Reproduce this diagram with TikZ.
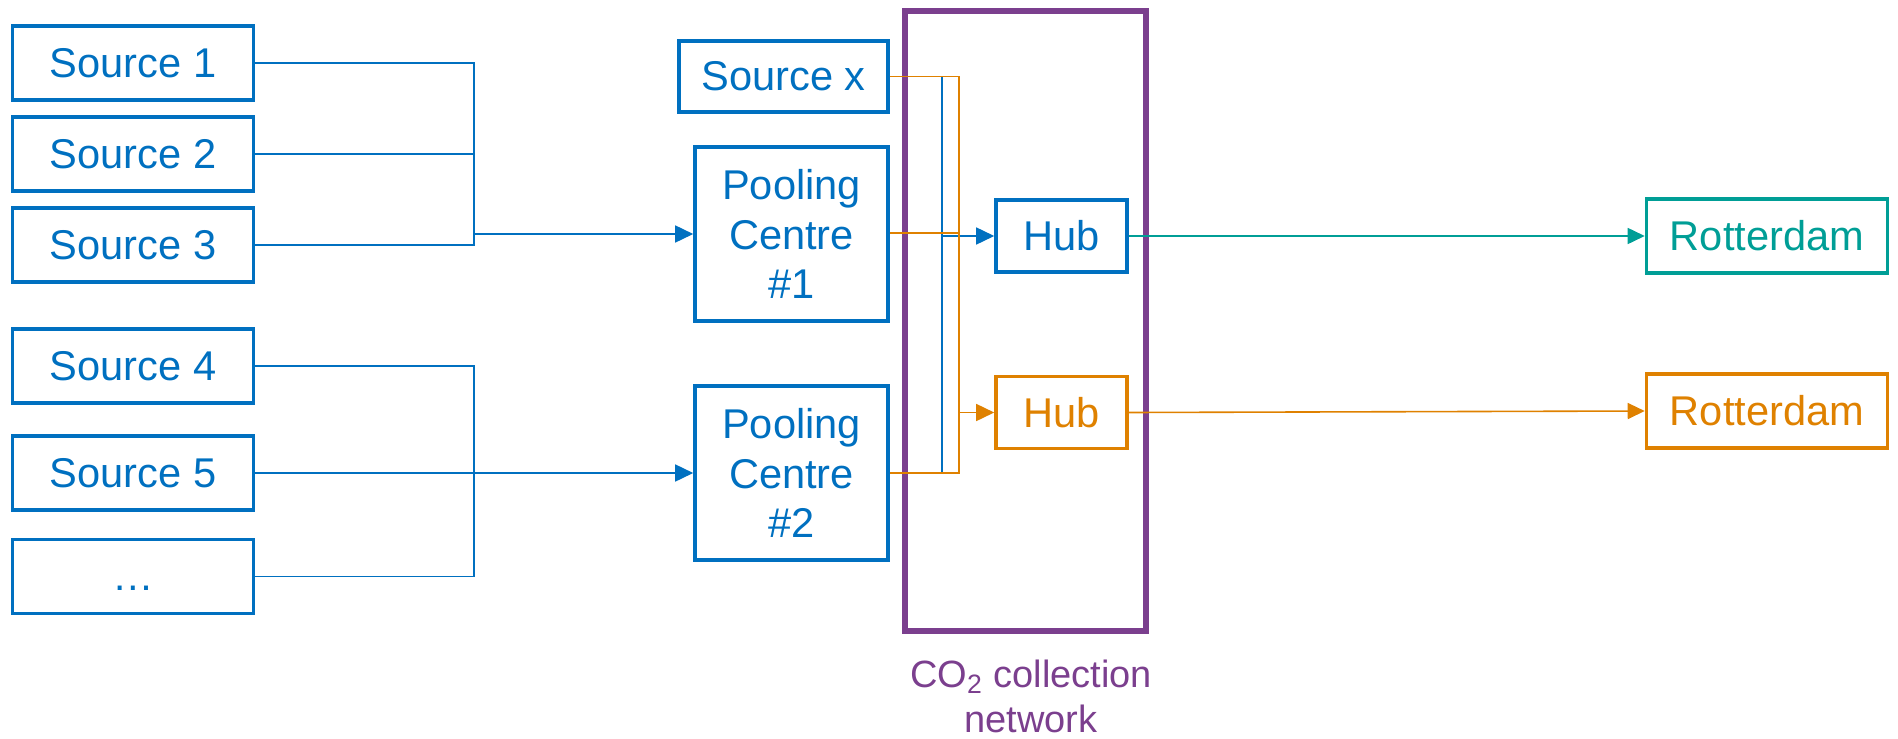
\documentclass[tikz,border=0pt]{standalone}
\usepackage{fontspec}
\setmainfont{Liberation Sans}
\usetikzlibrary{positioning, calc, arrows.meta}

\definecolor{srcblue}{HTML}{0070C0}
\definecolor{hubteal}{HTML}{009E96}
\definecolor{huborange}{HTML}{DF8100}
\definecolor{netpurple}{HTML}{7B3F8E}

\begin{document}
\begin{tikzpicture}[
    x=0.5pt, y=-0.5pt,
    box/.style={draw, line width=1.8pt, align=center, inner sep=0pt,
        font=\fontsize{20.8}{24.8}\selectfont},
    srcbox/.style={box, srcblue, text=srcblue, minimum width=120.5pt, minimum height=37pt},
    link/.style={line width=0.8pt},
    arr/.style={link, -{Triangle[length=9pt, width=8.5pt]}}
]
\useasboundingbox (0,0) rectangle (1898,738);
% Sources on the left
\node[srcbox] (s1) at (133,63) {Source 1};
\node[srcbox] (s2) at (133,154) {Source 2};
\node[srcbox] (s3) at (133,245) {Source 3};
\node[srcbox] (s4) at (133,366) {Source 4};
\node[srcbox] (s5) at (133,473) {Source 5};
\node[srcbox] (s6) at (133,576.5) {\vphantom{S}\dots};
% Source x and pooling centres
\node[srcbox, minimum width=104.5pt, minimum height=35.5pt] (srcx) at (783.5,76.5) {Source x};
\node[srcbox, minimum width=96.5pt, minimum height=87pt] (pc1) at (791.5,234) {Pooling\\Centre\\\#1};
\node[srcbox, minimum width=96.5pt, minimum height=87pt] (pc2) at (791.5,473) {Pooling\\Centre\\\#2};
% Hubs
\node[srcbox, minimum width=65.5pt, minimum height=36pt] (hub1) at (1061.5,236) {Hub};
\node[box, huborange, text=huborange, minimum width=65.5pt, minimum height=36pt] (hub2) at (1061.5,412.5) {Hub};
% Rotterdam
\node[box, hubteal, text=hubteal, minimum width=120.5pt, minimum height=37pt] (rot1) at (1767,236) {Rotterdam};
\node[box, huborange, text=huborange, minimum width=120.5pt, minimum height=37pt] (rot2) at (1767,411) {Rotterdam};
% Collection network frame
\draw[netpurple, line width=3pt] (905,11.5) rectangle (1146,631);
\node[netpurple, align=center, font=\fontsize{19}{22.5}\selectfont] (netlabel) at (1031,696) {CO\textsubscript{2} collection\\network};
% Sources to pooling centres
\coordinate (busa) at (474,0);
\draw[link, srcblue] (s1.east) -| (busa |- s3.east) -- (s3.east);
\draw[link, srcblue] (s2.east) -- (busa |- s2.east);
\draw[arr, srcblue] (busa |- pc1.west) -- (pc1.west);
\draw[link, srcblue] (s4.east) -| (busa |- s6.east) -- (s6.east);
\draw[arr, srcblue] (s5.east) -- (pc2.west);
% Blue network
\coordinate (busb) at (942,0);
\coordinate (busc) at (959,0);
\draw[link, srcblue] (srcx.east) -| (busb |- pc2.east) -- (pc2.east);
\draw[arr, srcblue] (busb |- hub1.west) -- (hub1.west);
% Orange network
\draw[link, huborange] (srcx.east) -| (busc |- pc2.east) -- (pc2.east);
\draw[link, huborange] ($(pc1.east)+(0,-1)$) -- (busc |- {$(pc1.east)+(0,-1)$});
\draw[arr, huborange] (busc |- hub2.west) -- (hub2.west);
% Hubs to Rotterdam
\draw[link, hubteal, -{Triangle[length=8.5pt, width=8pt]}] (hub1.east) -- (rot1.west);
\draw[link, huborange, -{Triangle[length=8.5pt, width=8pt]}] (hub2.east) -- (rot2.west);
\end{tikzpicture}
\end{document}
